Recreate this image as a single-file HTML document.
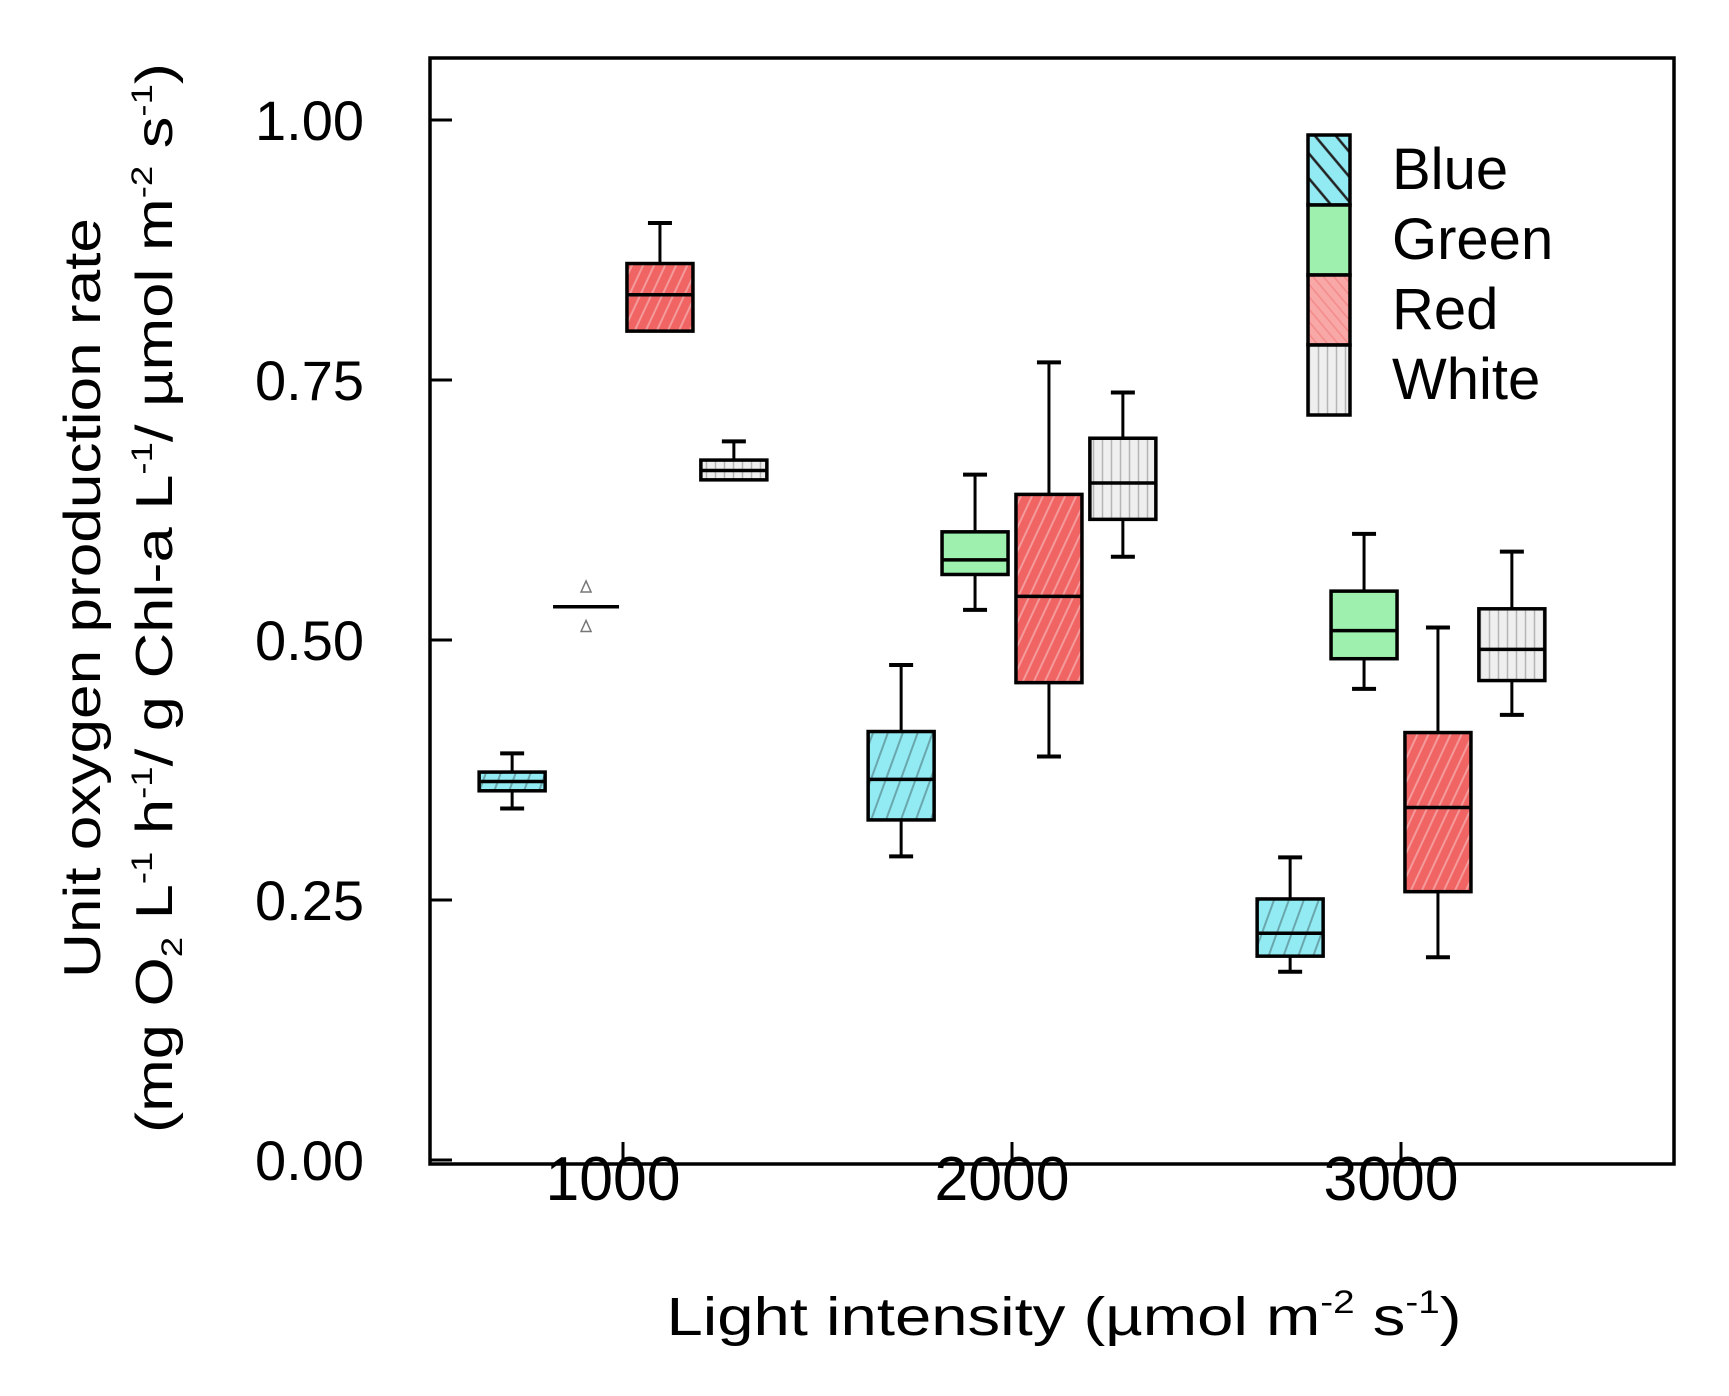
<!DOCTYPE html>
<html><head><meta charset="utf-8"><style>
html,body{margin:0;padding:0;background:#fff;}
svg{display:block;font-family:"Liberation Sans",Arial,sans-serif;}
</style></head><body>
<svg id="chart" width="1729" height="1396" viewBox="0 0 1729 1396">
<defs>
<pattern id="pBlue" patternUnits="userSpaceOnUse" width="14" height="14" patternTransform="rotate(20)"><rect width="14" height="14" fill="#92eaf2"/><line x1="7" y1="0" x2="7" y2="14" stroke="#6aa7ad" stroke-width="2"/></pattern>
<pattern id="pRed" patternUnits="userSpaceOnUse" width="10" height="10" patternTransform="rotate(25)"><rect width="10" height="10" fill="#f06464"/><line x1="5" y1="0" x2="5" y2="10" stroke="#f59a9a" stroke-width="2"/></pattern>
<pattern id="pWhite" patternUnits="userSpaceOnUse" width="9" height="10"><rect width="9" height="10" fill="#efefef"/><line x1="4.5" y1="0" x2="4.5" y2="10" stroke="#b5b5b5" stroke-width="1.5"/></pattern>
<pattern id="pBlueLeg" patternUnits="userSpaceOnUse" width="16" height="16" patternTransform="rotate(-40)"><rect width="16" height="16" fill="#92eaf2"/><line x1="8" y1="0" x2="8" y2="16" stroke="#222" stroke-width="2.5"/></pattern>
<pattern id="pRedLeg" patternUnits="userSpaceOnUse" width="8" height="8" patternTransform="rotate(-40)"><rect width="8" height="8" fill="#f9a8a8"/><line x1="4" y1="0" x2="4" y2="8" stroke="#f48a8a" stroke-width="1.5"/></pattern>
</defs>
<g id="plot"></g>
</svg>
<script>
const categories = [1000, 2000, 3000];
const seriesNames = ["Blue", "Green", "Red", "White"];
const blueLo  = [0.338, 0.292, 0.181];
const blueQ1  = [0.355, 0.327, 0.196];
const blueMed = [0.364, 0.366, 0.218];
const blueQ3  = [0.373, 0.412, 0.251];
const blueHi  = [0.391, 0.476, 0.291];
const greenLo  = [0.532, 0.529, 0.453];
const greenQ1  = [0.532, 0.563, 0.482];
const greenMed = [0.532, 0.577, 0.509];
const greenQ3  = [0.532, 0.604, 0.547];
const greenHi  = [0.532, 0.659, 0.602];
const redLo  = [0.797, 0.388, 0.195];
const redQ1  = [0.797, 0.459, 0.258];
const redMed = [0.832, 0.542, 0.339];
const redQ3  = [0.862, 0.640, 0.411];
const redHi  = [0.901, 0.767, 0.512];
const whiteLo  = [0.654, 0.580, 0.428];
const whiteQ1  = [0.654, 0.616, 0.461];
const whiteMed = [0.663, 0.651, 0.491];
const whiteQ3  = [0.673, 0.694, 0.530];
const whiteHi  = [0.691, 0.738, 0.585];
const outlierX = [1000];
const outlierY = [0.551, 0.513];
const yTicks = [0, 0.25, 0.5, 0.75, 1.0];
const yTickLabels = ["0.00", "0.25", "0.50", "0.75", "1.00"];
const xTicks = [1000, 2000, 3000];
const xTickLabels = ["1000", "2000", "3000"];

const NS = "http://www.w3.org/2000/svg";
const L = 430, R = 1674, T = 58, B = 1164;
const X0 = 1000, X0px = 623, XS = 0.389;
function xs(v){ return X0px + (v - X0) * XS; }
function ys(v){ return 1160 - v * 1040; }
const g = document.getElementById("plot");
function mk(tag, attrs, parent){
  const e = document.createElementNS(NS, tag);
  for (const k in attrs) e.setAttribute(k, attrs[k]);
  (parent || g).appendChild(e);
  return e;
}
const series = [
  {name:"blue", fill:"url(#pBlue)", lo:blueLo, q1:blueQ1, med:blueMed, q3:blueQ3, hi:blueHi},
  {name:"green", fill:"#9ef0ae", lo:greenLo, q1:greenQ1, med:greenMed, q3:greenQ3, hi:greenHi},
  {name:"red", fill:"url(#pRed)", lo:redLo, q1:redQ1, med:redMed, q3:redQ3, hi:redHi},
  {name:"white", fill:"url(#pWhite)", lo:whiteLo, q1:whiteQ1, med:whiteMed, q3:whiteQ3, hi:whiteHi}
];
const BW = 66, CAP = 24, OFF = 190;
categories.forEach((c, ci) => {
  series.forEach((s, si) => {
    const cx = xs(c + (si - 1.5) * OFF);
    const grp = mk("g", {});
    
    
    if (s.hi[ci] > s.q3[ci]) {
      mk("line", {x1:cx, x2:cx, y1:ys(s.q3[ci]), y2:ys(s.hi[ci]), stroke:"#000", "stroke-width":3}, grp);
      mk("line", {x1:cx-CAP/2, x2:cx+CAP/2, y1:ys(s.hi[ci]), y2:ys(s.hi[ci]), stroke:"#000", "stroke-width":4}, grp);
    }
    if (s.lo[ci] < s.q1[ci]) {
      mk("line", {x1:cx, x2:cx, y1:ys(s.q1[ci]), y2:ys(s.lo[ci]), stroke:"#000", "stroke-width":3}, grp);
      mk("line", {x1:cx-CAP/2, x2:cx+CAP/2, y1:ys(s.lo[ci]), y2:ys(s.lo[ci]), stroke:"#000", "stroke-width":4}, grp);
    }
    const h = ys(s.q1[ci]) - ys(s.q3[ci]);
    if (h > 0.5) {
      mk("rect", {x:cx-BW/2, y:ys(s.q3[ci]), width:BW, height:h, fill:s.fill, stroke:"#000", "stroke-width":3.5}, grp);
    }
    mk("line", {x1:cx-BW/2, x2:cx+BW/2, y1:ys(s.med[ci]), y2:ys(s.med[ci]), stroke:"#000", "stroke-width":3.5}, grp);
    if (s.name === "green" && outlierX.indexOf(c) >= 0) {
      outlierY.forEach(v => {
        const t = mk("path", {d:`M${cx} ${ys(v)-6} L${cx+5} ${ys(v)+5} L${cx-5} ${ys(v)+5} Z`, fill:"none", stroke:"#777", "stroke-width":1.5}, grp);
        
        
      });
    }
  });
});
const fr = mk("rect", {x:L, y:T, width:R-L, height:B-T, fill:"none", stroke:"#000", "stroke-width":3.5});


yTicks.forEach((v, i) => {
  const tk = mk("line", {x1:L, x2:L+22, y1:ys(v), y2:ys(v), stroke:"#000", "stroke-width":3});
  
  
  const t = mk("text", {x:364, y:ys(v)+20, "text-anchor":"end", "font-size":56, fill:"#000"});
  t.textContent = yTickLabels[i];
  
  
});
xTicks.forEach((v, i) => {
  const tk = mk("line", {x1:xs(v), x2:xs(v), y1:B, y2:B-22, stroke:"#000", "stroke-width":3});
  
  
  const t = mk("text", {x:xs(v)-10, y:1200, "text-anchor":"middle", "font-size":62, fill:"#000", textLength:135, lengthAdjust:"spacingAndGlyphs"});
  t.textContent = xTickLabels[i];
  
  
});
const legFills = ["url(#pBlueLeg)", "#9ef0ae", "url(#pRedLeg)", "url(#pWhite)"];
seriesNames.forEach((n, i) => {
  const y0 = 135 + i * 70;
  const r = mk("rect", {x:1308, y:y0, width:42, height:70, fill:legFills[i], stroke:"#000", "stroke-width":3.5});
  
  
  const t = mk("text", {x:1392, y:y0 + 54, "font-size":58, fill:"#000"});
  t.textContent = n;
  
  
});
</script>
<svg width="1729" height="1396" style="position:absolute;left:0;top:0;font-family:'Liberation Sans',Arial,sans-serif">
<text x="1064" y="1335" text-anchor="middle" font-size="54" textLength="795" lengthAdjust="spacingAndGlyphs">Light intensity (µmol m<tspan font-size="32" dy="-22">-2</tspan><tspan dy="22"> s</tspan><tspan font-size="32" dy="-22">-1</tspan><tspan dy="22">)</tspan></text>
<g transform="translate(100,598) rotate(-90)">
<text x="0" y="0" text-anchor="middle" font-size="52" textLength="760" lengthAdjust="spacingAndGlyphs">Unit oxygen production rate</text>
</g>
<g transform="translate(172,598) rotate(-90)">
<text x="0" y="0" text-anchor="middle" font-size="52" textLength="1070" lengthAdjust="spacingAndGlyphs">(mg O<tspan font-size="30" dy="10">2</tspan><tspan dy="-10"> L</tspan><tspan font-size="30" dy="-20">-1</tspan><tspan dy="20"> h</tspan><tspan font-size="30" dy="-20">-1</tspan><tspan dy="20">/ g Chl-a L</tspan><tspan font-size="30" dy="-20">-1</tspan><tspan dy="20">/ µmol m</tspan><tspan font-size="30" dy="-20">-2</tspan><tspan dy="20"> s</tspan><tspan font-size="30" dy="-20">-1</tspan><tspan dy="20">)</tspan></text>
</g>
</svg>
</body></html>
